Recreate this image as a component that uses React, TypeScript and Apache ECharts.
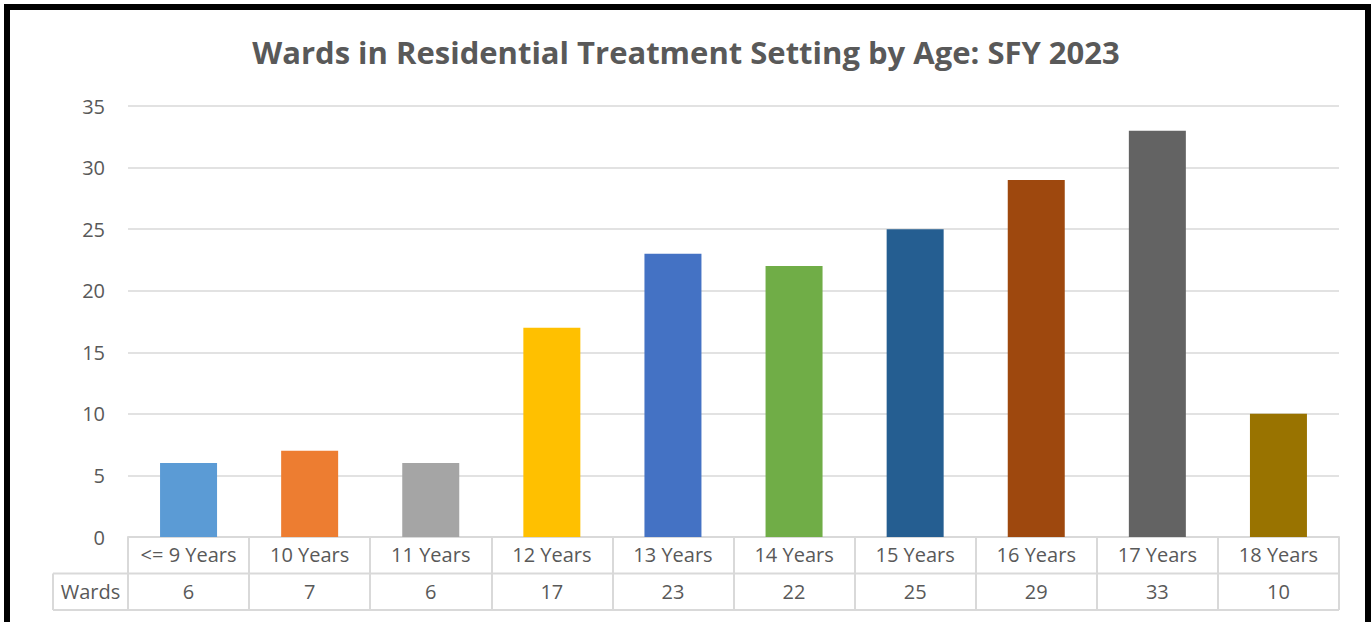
import React, { useEffect, useRef } from "react";
import * as echarts from "echarts";

const categories = ["<= 9 Years", "10 Years", "11 Years", "12 Years", "13 Years", "14 Years", "15 Years", "16 Years", "17 Years", "18 Years"];
const wards = [6, 7, 6, 17, 23, 22, 25, 29, 33, 10];
const barColors = ["#5B9BD5", "#ED7D31", "#A5A5A5", "#FFC000", "#4472C4", "#70AD47", "#255E91", "#9E480E", "#636363", "#997300"];
const seriesName = "Wards";
const titleText = "Wards in Residential Treatment Setting by Age: SFY 2023";

const W = 1372;
const H = 622;
const GL = 128;
const GR = 33;
const GT = 106;
const GB = 85;
const FONT = "'Open Sans', 'Noto Sans', sans-serif";
const TXT = "#595959";
const LINE = "#d9d9d9";

export default function App() {
  const ref = useRef<HTMLDivElement>(null);
  useEffect(() => {
    document.body.style.margin = "0";
    const chart = echarts.init(ref.current!, null, { renderer: "svg" });
    const right = W - GR;
    const axisY = H - GB;
    const rowH = 36.5;
    const row2 = axisY + rowH;
    const row3 = axisY + 2 * rowH;
    const leftCell = 53;
    chart.setOption({
      animation: false,
      title: {
        text: titleText,
        left: "center",
        top: 31,
        textStyle: { fontFamily: FONT, fontSize: 31, fontWeight: "bold", color: TXT },
      },
      grid: { left: GL, right: GR, top: GT, bottom: GB },
      xAxis: [
        {
          type: "category",
          data: categories,
          axisLine: { show: true, lineStyle: { color: LINE, width: 2 } },
          axisTick: { show: true, interval: 0, length: rowH * 2, lineStyle: { color: LINE, width: 2 } },
          axisLabel: { interval: 0, color: TXT, fontFamily: FONT, fontSize: 20, margin: 7 },
        },
        {
          type: "category",
          position: "bottom",
          data: wards.map(String),
          axisLine: { show: false },
          axisTick: { show: false },
          axisLabel: { interval: 0, color: TXT, fontFamily: FONT, fontSize: 20, margin: 44 },
        },
      ],
      yAxis: {
        type: "value",
        min: 0,
        max: 35,
        interval: 5,
        axisLine: { show: false },
        axisTick: { show: false },
        splitLine: { lineStyle: { color: LINE, width: 1.5 } },
        axisLabel: { color: TXT, fontFamily: FONT, fontSize: 20, margin: 23 },
      },
      series: [
        {
          name: seriesName,
          type: "bar",
          barWidth: 57,
          data: wards.map((v, i) => ({ value: v, itemStyle: { color: barColors[i] } })),
        },
      ],
      graphic: [
        { type: "rect", shape: { x: 7, y: 7, width: W - 11, height: H + 40 }, style: { fill: "none", stroke: "#000", lineWidth: 6 }, z: 100 },
        { type: "line", shape: { x1: leftCell, y1: row2, x2: right, y2: row2 }, style: { stroke: LINE, lineWidth: 2 } },
        { type: "line", shape: { x1: leftCell, y1: row3, x2: right, y2: row3 }, style: { stroke: LINE, lineWidth: 2 } },
        { type: "line", shape: { x1: leftCell, y1: row2, x2: leftCell, y2: row3 }, style: { stroke: LINE, lineWidth: 2 } },
        {
          type: "text",
          x: (leftCell + GL) / 2,
          y: (row2 + row3) / 2,
          style: { text: seriesName, fill: TXT, font: `20px ${FONT}`, align: "center", verticalAlign: "middle" },
        },
      ],
    });
    return () => chart.dispose();
  }, []);
  return <div ref={ref} style={{ width: W, height: H, background: "#fff" }} />;
}
